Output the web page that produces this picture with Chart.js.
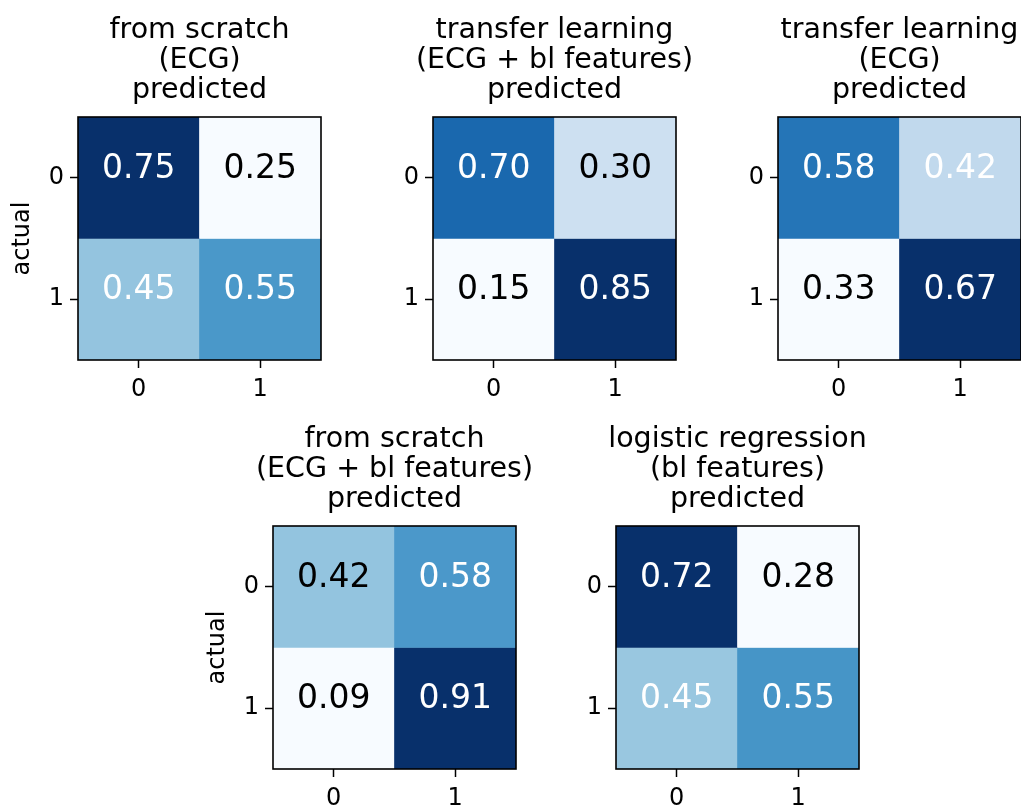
<!DOCTYPE html>
<html>
<head>
<meta charset="utf-8">
<title>confusion matrices</title>
<script src="https://cdn.jsdelivr.net/npm/chart.js@4.4.1/dist/chart.umd.min.js"></script>
<style>
  html, body { margin: 0; padding: 0; background: #fff; }
  body { width: 1021px; height: 809px; overflow: hidden; position: relative; }
  .panel { position: absolute; }
</style>
</head>
<body>
<div class="panel" id="box0"><canvas id="cm0"></canvas></div>
<div class="panel" id="box1"><canvas id="cm1"></canvas></div>
<div class="panel" id="box2"><canvas id="cm2"></canvas></div>
<div class="panel" id="box3"><canvas id="cm3"></canvas></div>
<div class="panel" id="box4"><canvas id="cm4"></canvas></div>
<script>
// tick labels
var predLabels = ['0', '1'];
var actualLabels = ['0', '1'];

// panel titles
var titleScratchEcg = ['from scratch', '(ECG)', 'predicted'];
var titleTransferEcgBl = ['transfer learning', '(ECG + bl features)', 'predicted'];
var titleTransferEcg = ['transfer learning', '(ECG)', 'predicted'];
var titleScratchEcgBl = ['from scratch', '(ECG + bl features)', 'predicted'];
var titleLogreg = ['logistic regression', '(bl features)', 'predicted'];

// normalised confusion matrices, rows = actual, cols = predicted
var scratchEcg = [[0.75, 0.25], [0.45, 0.55]];
var transferEcgBl = [[0.70, 0.30], [0.15, 0.85]];
var transferEcg = [[0.58, 0.42], [0.33, 0.67]];
var scratchEcgBl = [[0.42, 0.58], [0.09, 0.91]];
var logregBl = [[0.72, 0.28], [0.45, 0.55]];

var FONT = "'DejaVu Sans', sans-serif";
var AREA = 243;   // size of the matrix square
var SIDE = 100;   // room left/right of the square
var HEAD = 120;   // room above (titles)
var FOOT = 60;    // room below (x ticks)
var TICK_SIZE = 24;

Chart.defaults.font.family = FONT;
Chart.defaults.font.size = TICK_SIZE;
Chart.defaults.color = '#000';

// matplotlib "Blues"
var bluesStops = [
  [247, 251, 255], [222, 235, 247], [198, 219, 239], [158, 202, 225], [107, 174, 214],
  [66, 146, 198], [33, 113, 181], [8, 81, 156], [8, 48, 107]
];

function blues(t) {
  t = Math.max(0, Math.min(1, t));
  var pos = t * (bluesStops.length - 1);
  var i = Math.min(Math.floor(pos), bluesStops.length - 2);
  var f = pos - i;
  var a = bluesStops[i], b = bluesStops[i + 1];
  var c = [0, 1, 2].map(function(k) { return Math.round(a[k] + (b[k] - a[k]) * f); });
  return 'rgb(' + c.join(',') + ')';
}

function flat(m) { return [].concat.apply([], m); }

var cellText = {
  id: 'cellText',
  afterDatasetsDraw: function(chart, args, opts) {
    var ctx = chart.ctx;
    var vals = opts.values;
    var hi = Math.max.apply(null, flat(vals));
    ctx.save();
    ctx.font = '33px ' + FONT;
    ctx.textAlign = 'center';
    ctx.textBaseline = 'alphabetic';
    chart.data.datasets.forEach(function(ds, r) {
      chart.getDatasetMeta(r).data.forEach(function(bar, c) {
        var v = vals[r][c];
        ctx.fillStyle = v > hi / 2 ? '#ffffff' : '#000000';
        ctx.fillText(v.toFixed(2), bar.x, (bar.y + bar.base) / 2);
      });
    });
    ctx.restore();
  }
};

var frame = {
  id: 'frame',
  afterDraw: function(chart) {
    var a = chart.chartArea, ctx = chart.ctx;
    ctx.save();
    ctx.strokeStyle = '#000';
    ctx.lineWidth = 1.6;
    ctx.strokeRect(a.left, a.top, a.right - a.left, a.bottom - a.top);
    ctx.restore();
  }
};

function tickGrid() {
  return {
    display: true, offset: false, drawOnChartArea: false, drawTicks: true,
    tickLength: 8, tickWidth: 1.5, tickColor: '#000'
  };
}

function drawMatrix(n, left, top, titleLines, vals, showActual) {
  var box = document.getElementById('box' + n);
  box.style.left = (left - SIDE) + 'px';
  box.style.top = (top - HEAD) + 'px';
  box.style.width = (AREA + 2 * SIDE) + 'px';
  box.style.height = (HEAD + AREA + FOOT) + 'px';

  var all = flat(vals);
  var lo = Math.min.apply(null, all), hi = Math.max.apply(null, all);

  var datasets = actualLabels.map(function(lab, r) {
    return {
      label: lab,
      data: predLabels.map(function() { return 1; }),
      backgroundColor: vals[r].map(function(v) { return blues((v - lo) / (hi - lo)); }),
      borderWidth: 0,
      barPercentage: 1,
      categoryPercentage: 1,
      stack: 'cm'
    };
  });

  new Chart(document.getElementById('cm' + n), {
    type: 'bar',
    data: { labels: predLabels, datasets: datasets },
    options: {
      responsive: true,
      maintainAspectRatio: false,
      animation: false,
      events: [],
      layout: { padding: 0 },
      plugins: {
        legend: { display: false },
        tooltip: { enabled: false },
        title: {
          display: true,
          text: titleLines,
          color: '#000',
          font: { family: FONT, size: 28.5, weight: 'normal', lineHeight: 1.04 },
          padding: { top: 19, bottom: HEAD - 19 - 3 * 28.5 * 1.04 }
        },
        cellText: { values: vals }
      },
      scales: {
        x: {
          type: 'category',
          stacked: true,
          offset: true,
          grid: tickGrid(),
          border: { display: false },
          ticks: { color: '#000', font: { family: FONT, size: TICK_SIZE }, padding: 7 },
          afterFit: function(s) { s.height = FOOT; }
        },
        y: {
          type: 'linear',
          stacked: true,
          min: 0,
          max: actualLabels.length,
          reverse: true,
          display: false
        },
        rows: {
          type: 'category',
          labels: actualLabels,
          position: 'left',
          offset: true,
          grid: tickGrid(),
          border: { display: false },
          ticks: { color: '#000', font: { family: FONT, size: TICK_SIZE }, padding: 6 },
          title: {
            display: showActual,
            text: 'actual',
            color: '#000',
            font: { family: FONT, size: 24 },
            padding: { top: 30, bottom: 0 }
          },
          afterFit: function(s) { s.width = SIDE; }
        },
        spare: {
          type: 'linear',
          position: 'right',
          display: true,
          grid: { display: false },
          border: { display: false },
          ticks: { display: false },
          afterFit: function(s) { s.width = SIDE; }
        }
      }
    },
    plugins: [cellText, frame]
  });
}

drawMatrix(0, 78, 117, titleScratchEcg, scratchEcg, true);
drawMatrix(1, 433, 117, titleTransferEcgBl, transferEcgBl, false);
drawMatrix(2, 778, 117, titleTransferEcg, transferEcg, false);
drawMatrix(3, 273, 526, titleScratchEcgBl, scratchEcgBl, true);
drawMatrix(4, 616, 526, titleLogreg, logregBl, false);
</script>
</body>
</html>
